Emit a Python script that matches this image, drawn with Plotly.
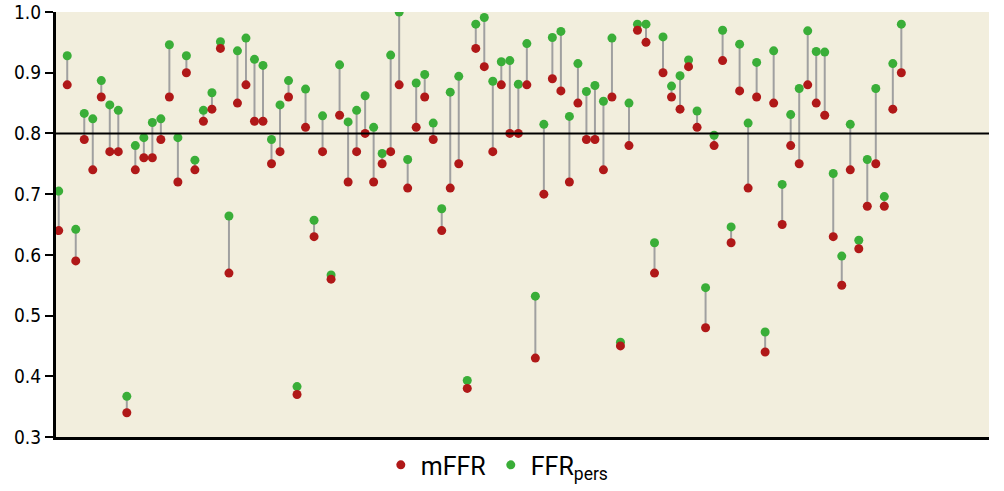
import plotly.graph_objects as go

# Measured FFR per vessel (1..100): mFFR vs FFRpers
vessel = list(range(1, 101))
mffr = [
    0.64, 0.88, 0.59, 0.79, 0.74, 0.86, 0.77, 0.77, 0.34, 0.74,
    0.76, 0.76, 0.79, 0.86, 0.72, 0.90, 0.74, 0.82, 0.84, 0.94,
    0.57, 0.85, 0.88, 0.82, 0.82, 0.75, 0.77, 0.86, 0.37, 0.81,
    0.63, 0.77, 0.56, 0.83, 0.72, 0.77, 0.80, 0.72, 0.75, 0.77,
    0.88, 0.71, 0.81, 0.86, 0.79, 0.64, 0.71, 0.75, 0.38, 0.94,
    0.91, 0.77, 0.88, 0.80, 0.80, 0.88, 0.43, 0.70, 0.89, 0.87,
    0.72, 0.85, 0.79, 0.79, 0.74, 0.86, 0.45, 0.78, 0.97, 0.95,
    0.57, 0.90, 0.86, 0.84, 0.91, 0.81, 0.48, 0.78, 0.92, 0.62,
    0.87, 0.71, 0.86, 0.44, 0.85, 0.65, 0.78, 0.75, 0.88, 0.85,
    0.83, 0.63, 0.55, 0.74, 0.61, 0.68, 0.75, 0.68, 0.84, 0.90,
]
ffr_pers = [
    0.705, 0.928, 0.642, 0.833, 0.824, 0.887, 0.847, 0.838, 0.367, 0.780,
    0.793, 0.818, 0.824, 0.946, 0.793, 0.928, 0.756, 0.838, 0.867, 0.951,
    0.664, 0.936, 0.957, 0.922, 0.912, 0.790, 0.847, 0.887, 0.383, 0.873,
    0.657, 0.829, 0.567, 0.913, 0.819, 0.838, 0.862, 0.810, 0.767, 0.929,
    1.000, 0.757, 0.883, 0.897, 0.817, 0.676, 0.868, 0.894, 0.393, 0.980,
    0.991, 0.886, 0.918, 0.920, 0.881, 0.948, 0.532, 0.815, 0.958, 0.968,
    0.828, 0.915, 0.869, 0.879, 0.853, 0.957, 0.456, 0.850, 0.980, 0.980,
    0.620, 0.959, 0.878, 0.895, 0.921, 0.837, 0.546, 0.797, 0.970, 0.646,
    0.947, 0.817, 0.917, 0.473, 0.936, 0.716, 0.831, 0.874, 0.969, 0.935,
    0.934, 0.734, 0.598, 0.815, 0.624, 0.757, 0.874, 0.696, 0.915, 0.980,
]

RED = '#b01818'
GREEN = '#3aae38'
BG = '#f2eedd'
FONT = 'Liberation Sans Narrow, DejaVu Sans Condensed, Arial Narrow, sans-serif'

# connector segments, one per vessel
seg_x, seg_y = [], []
for v, a, b in zip(vessel, mffr, ffr_pers):
    seg_x += [v, v, None]
    seg_y += [a, b, None]

fig = go.Figure()
fig.add_trace(go.Scatter(
    x=seg_x, y=seg_y, mode='lines',
    line=dict(color='#a0a0a0', width=2),
    showlegend=False, hoverinfo='skip',
))
fig.add_trace(go.Scatter(
    x=vessel, y=ffr_pers, mode='markers', name='FFR<sub>pers</sub>',
    marker=dict(color=GREEN, size=9),
))
fig.add_trace(go.Scatter(
    x=vessel, y=mffr, mode='markers', name='mFFR',
    marker=dict(color=RED, size=9),
))
fig.add_hline(y=0.8, line=dict(color='black', width=2))

fig.update_layout(
    width=1004, height=491,
    plot_bgcolor=BG, paper_bgcolor='white',
    font=dict(family=FONT, color='black', size=19),
    margin=dict(t=12, b=54, l=56, r=15, autoexpand=False),
    showlegend=True,
    legend=dict(
        orientation='h', x=0.473, xanchor='center', y=-0.012, yanchor='top',
        font=dict(size=25, family='Roboto, sans-serif'),
        traceorder='reversed', itemwidth=30,
    ),
    xaxis=dict(
        range=[0.68, 110.3], showticklabels=False, ticks='', showgrid=False,
        zeroline=False, showline=True, linecolor='black', linewidth=3,
        automargin=False,
    ),
    yaxis=dict(
        range=[0.3, 1.0], dtick=0.1, tickformat='.1f', showgrid=False,
        zeroline=False, showline=True, linecolor='black', linewidth=3,
        ticks='outside', ticklen=8, tickwidth=2, tickcolor='black',
        automargin=False, ticklabeloverflow='allow',
    ),
)

# drop the browser's default 8px body margin so the figure sits at the page corner
fig.write_html('out.html', config={'displayModeBar': False},
               post_script="document.body.style.margin = '0';")
